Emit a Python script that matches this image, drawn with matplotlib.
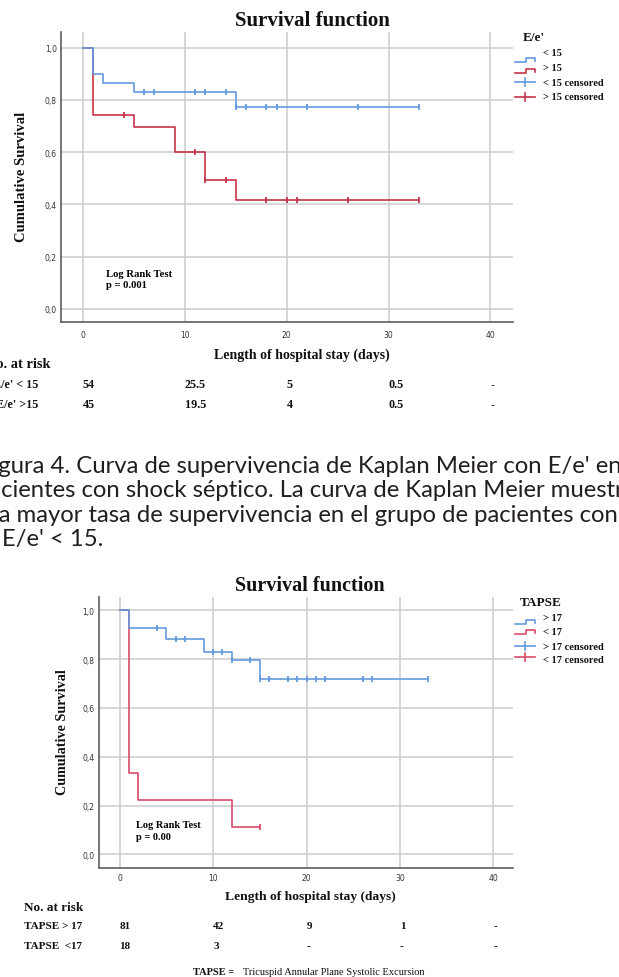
import numpy as np
import matplotlib
matplotlib.use("Agg")
import matplotlib.pyplot as plt
from matplotlib.lines import Line2D
from matplotlib import transforms

W, H = 619, 978
BLUE, RED_TOP, RED_BOT = "#6399de", "#c8334a", "#dc4a6a"
GRID, AXIS, INK, CAP_INK = "#cccccc", "#5e5e5e", "#111111", "#231f20"
SERIF = "Liberation Serif"

# E/e' Kaplan-Meier curves (time in days, cumulative survival)
ee_lt15_t = [0, 1, 2, 5, 15, 33]
ee_lt15_s = [1.0, 0.90, 0.865, 0.83, 0.773, 0.773]
ee_lt15_cens = [6, 7, 11, 12, 14, 15, 16, 18, 19, 22, 27, 33]
ee_gt15_t = [0, 1, 5, 9, 12, 15, 33]
ee_gt15_s = [1.0, 0.744, 0.698, 0.60, 0.494, 0.418, 0.418]
ee_gt15_cens = [4, 11, 12, 14, 18, 20, 21, 26, 33]

# TAPSE Kaplan-Meier curves
tp_gt17_t = [0, 1, 5, 9, 12, 15, 33]
tp_gt17_s = [1.0, 0.929, 0.881, 0.829, 0.797, 0.717, 0.717]
tp_gt17_cens = [4, 6, 7, 10, 11, 12, 14, 15, 16, 18, 19, 20, 21, 22, 26, 27, 33]
tp_lt17_t = [0, 1, 2, 12, 15]
tp_lt17_s = [1.0, 0.333, 0.222, 0.111, 0.111]
tp_lt17_cens = [15]

x_ticks = [0, 10, 20, 30, 40]
y_ticks = [0.0, 0.2, 0.4, 0.6, 0.8, 1.0]
y_labels = ["0,0", "0,2", "0,4", "0,6", "0,8", "1,0"]

# numbers at risk under each chart
risk_lt15 = ["54", "25.5", "5", "0.5", "-"]
risk_gt15 = ["45", "19.5", "4", "0.5", "-"]
risk_gt17 = ["81", "42", "9", "1", "-"]
risk_lt17 = ["18", "3", "-", "-", "-"]

caption = [
    "Figura 4. Curva de supervivencia de Kaplan Meier con E/e' en",
    "pacientes con shock séptico. La curva de Kaplan Meier muestra",
    "una mayor tasa de supervivencia en el grupo de pacientes con",
    "E/e' < 15.",
]
caption_hidden = ["Fi", "pa", "un", ""]
CAP_SIZE = 17.2


def fx(x):
    return x / W


def fy(y):
    return 1 - y / H


def level(times, surv, t):
    i = np.searchsorted(np.asarray(times), t, side="right") - 1
    return surv[i]


fig = plt.figure(figsize=(W / 100, H / 100), dpi=100)
fig.patch.set_facecolor("white")
renderer = fig.canvas.get_renderer()


def ftext(x, y, s, size, weight="bold", **kw):
    kw.setdefault("va", "center")
    return fig.text(fx(x), fy(y), s, fontsize=size, fontweight=weight,
                    family=SERIF, color=INK, **kw)


def fline(xs, ys, **kw):
    fig.add_artist(Line2D([fx(x) for x in xs], [fy(y) for y in ys],
                          transform=fig.transFigure, **kw))


def text_width(s):
    probe = fig.text(0, 0, s, fontsize=CAP_SIZE, family="Lato")
    w = probe.get_window_extent(renderer).width
    probe.remove()
    return w


def km_panel(box, xlim, ylim, curves, pad_x):
    left, top, right, bottom = box
    ax = fig.add_axes([fx(left), fy(bottom), (right - left) / W, (bottom - top) / H])
    ax.set_xlim(*xlim)
    ax.set_ylim(*ylim)
    ax.set_xticks(x_ticks)
    ax.set_yticks(y_ticks)
    ax.set_yticklabels(y_labels)
    ax.grid(True, color=GRID, linewidth=1.1)
    ax.set_axisbelow(True)
    for side in ("top", "right"):
        ax.spines[side].set_visible(False)
    for side in ("left", "bottom"):
        ax.spines[side].set_color(AXIS)
        ax.spines[side].set_linewidth(1.2)
    ax.tick_params(length=0, labelsize=5.5, colors="#333333")
    ax.tick_params(axis="x", pad=pad_x)
    ax.tick_params(axis="y", pad=3)
    for t, s, cens, col in curves:
        ax.step(t, s, where="post", color=col, linewidth=1.2)
        ax.plot(cens, [level(t, s, c) for c in cens], linestyle="none",
                marker="|", markersize=4.5, markeredgewidth=1.3, color=col)
    return ax


def legend(x0, title_xy, title, rows):
    ftext(title_xy[0], title_xy[1], title, 9.5)
    for label, y_text, kind, y_icon, col in rows:
        ftext(x0, y_text, label, 7.5)
        if kind == "step":
            fline([515, 526, 526, 535, 535],
                  [y_icon + 2, y_icon + 2, y_icon - 2, y_icon - 2, y_icon + 0.5],
                  color=col, linewidth=1.2)
        else:
            fline([515, 535], [y_icon, y_icon], color=col, linewidth=1.2)
            fline([525, 525], [y_icon - 4, y_icon + 4], color=col, linewidth=1.2)


def risk_table(ax, head_x, head_y, head_size, size, rows):
    trans = transforms.blended_transform_factory(ax.transData, fig.transFigure)
    ftext(head_x, head_y, "No. at risk", head_size)
    for name, vals, x, ha, y in rows:
        ftext(x, y, name, size, ha=ha)
        for xt, v in zip(x_ticks, vals):
            ax.text(xt, fy(y), v, transform=trans, fontsize=size, fontweight="bold",
                    family=SERIF, color=INK, va="center", ha="left", clip_on=False)


# ---- top chart: E/e'
ax1 = km_panel((61, 33, 512.5, 323), (-2.15, 42.16), (-0.05, 1.06),
               [(ee_gt15_t, ee_gt15_s, ee_gt15_cens, RED_TOP),
                (ee_lt15_t, ee_lt15_s, ee_lt15_cens, BLUE)], pad_x=6)
ax1.text(2.25, 0.137, "Log Rank Test", fontsize=7.7, fontweight="bold", family=SERIF, va="center")
ax1.text(2.25, 0.092, "p = 0.001", fontsize=7.7, fontweight="bold", family=SERIF, va="center")
ftext(312, 21, "Survival function", 15, ha="center")
ftext(21.5, 177, "Cumulative Survival", 10.5, ha="center", rotation=90)
ftext(302, 355, "Length of hospital stay (days)", 10, ha="center")
legend(543, (523, 38.3), "E/e'",
       [("< 15", 53.3, "step", 61.3, BLUE),
        ("> 15", 68.3, "step", 72, RED_TOP),
        ("< 15 censored", 83.3, "plus", 83.3, BLUE),
        ("> 15 censored", 97.7, "plus", 97.7, RED_TOP)])
risk_table(ax1, -14, 364.5, 10.4, 8.7,
           [("E/e' < 15", risk_lt15, 38.5, "right", 385),
            ("E/e' >15", risk_gt15, 38.5, "right", 405.5)])

# ---- caption (cut by the page edge on both sides)
for line, hidden, x_vis, y_base in zip(caption, caption_hidden, [-1.5, 1.0, -1.5, 2],
                                       [473.3, 497.5, 521.7, 546]):
    shift = text_width(line) - text_width(line[len(hidden):]) if hidden else 0
    fig.text(fx(x_vis - shift), fy(y_base), line, fontsize=CAP_SIZE, family="Lato",
             color=CAP_INK, va="baseline", ha="left")

# ---- bottom chart: TAPSE
ax2 = km_panel((98.7, 598.3, 513, 868.5), (-2.24, 42.09), (-0.054, 1.053),
               [(tp_lt17_t, tp_lt17_s, tp_lt17_cens, RED_BOT),
                (tp_gt17_t, tp_gt17_s, tp_gt17_cens, BLUE)], pad_x=4)
ax2.text(1.8, 0.122, "Log Rank Test", fontsize=7.5, fontweight="bold", family=SERIF, va="center")
ax2.text(1.8, 0.074, "p = 0.00", fontsize=7.5, fontweight="bold", family=SERIF, va="center")
ftext(310, 586, "Survival function", 14.5, ha="center")
ftext(63, 732, "Cumulative Survival", 10.2, ha="center", rotation=90)
ftext(310, 897, "Length of hospital stay (days)", 9.7, ha="center")
legend(543, (520, 603.3), "TAPSE",
       [("> 17", 618.3, "step", 623, BLUE),
        ("< 17", 632.3, "step", 633, RED_BOT),
        ("> 17 censored", 647.3, "plus", 646.7, BLUE),
        ("< 17 censored", 660.7, "plus", 658.3, RED_BOT)])
risk_table(ax2, 23.5, 908, 9.5, 8,
           [("TAPSE > 17", risk_gt17, 23.5, "left", 927),
            ("TAPSE  <17", risk_lt17, 23.5, "left", 947)])

ftext(192.5, 973, "TAPSE =", 7.5)
ftext(243, 973, "Tricuspid Annular Plane Systolic Excursion", 7.5, weight="normal")

fig.savefig("out.png", dpi=100)
